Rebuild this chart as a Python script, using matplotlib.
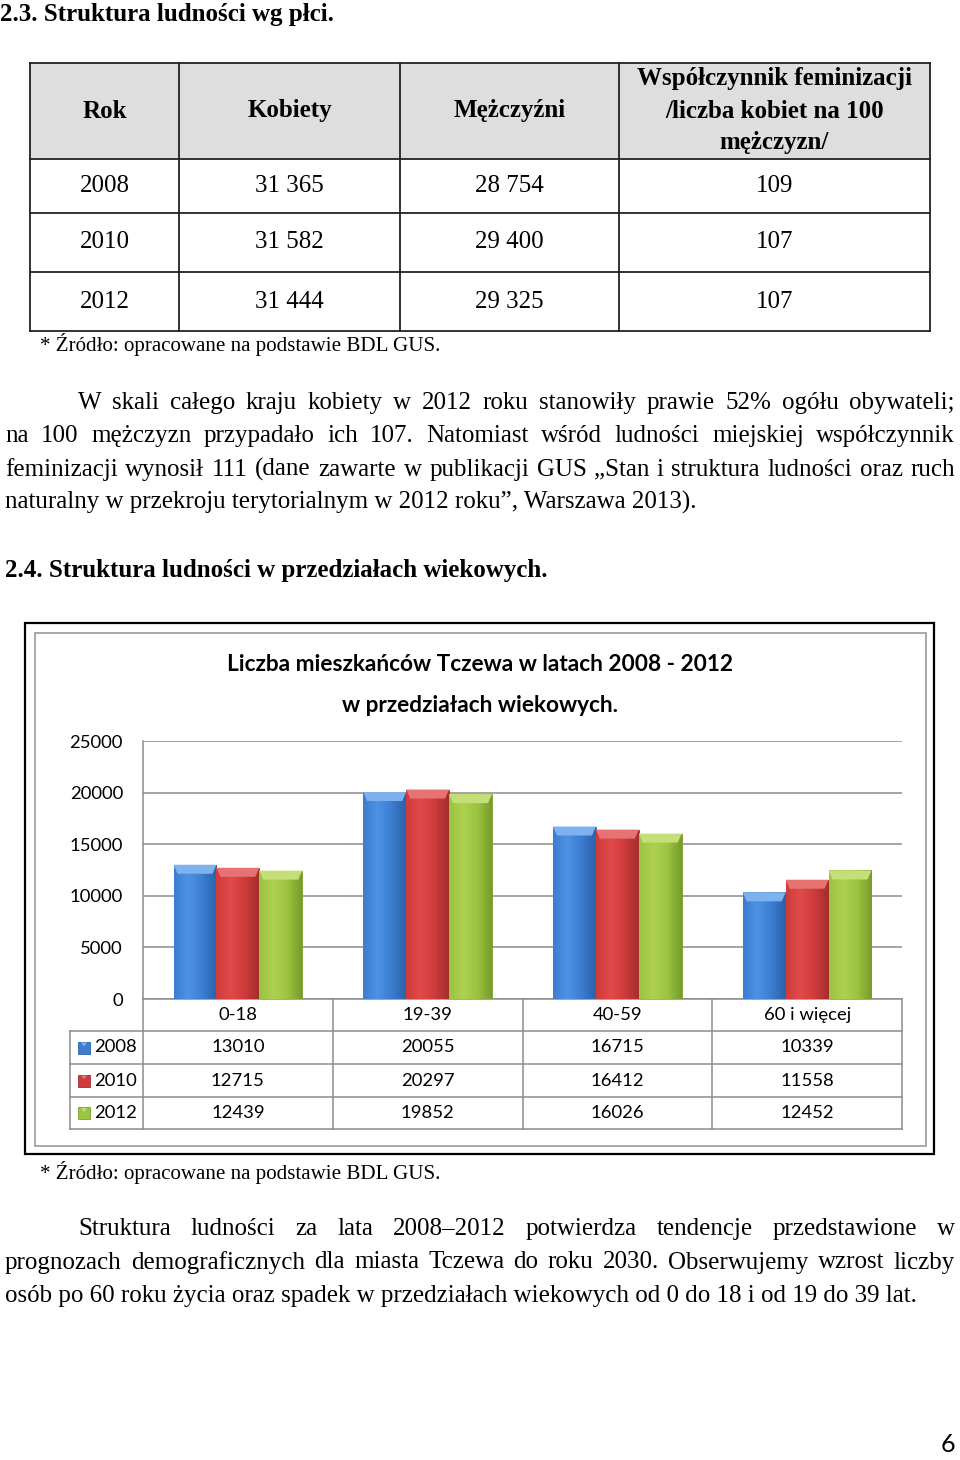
import matplotlib.pyplot as plt
import numpy as np
from matplotlib.colors import LinearSegmentedColormap
from matplotlib.patches import Rectangle, Polygon
from matplotlib.transforms import blended_transform_factory

# --- Data ---------------------------------------------------------------------

sex_header = ["Rok", "Kobiety", "Mężczyźni",
              "Współczynnik feminizacji\n/liczba kobiet na 100\nmężczyzn/"]
sex_years = ["2008", "2010", "2012"]
sex_women = ["31 365", "31 582", "31 444"]
sex_men = ["28 754", "29 400", "29 325"]
sex_ratio = ["109", "107", "107"]

age_groups = ["0-18", "19-39", "40-59", "60 i więcej"]
years = ["2008", "2010", "2012"]
pop_2008 = [13010, 20055, 16715, 10339]
pop_2010 = [12715, 20297, 16412, 11558]
pop_2012 = [12439, 19852, 16026, 12452]
y_ticks = [0, 5000, 10000, 15000, 20000, 25000]

chart_title = "Liczba mieszkańców Tczewa w latach 2008 - 2012\n\nw przedziałach wiekowych."
source_note = "* Źródło: opracowane na podstawie BDL GUS."

para1 = [
    "W skali całego kraju kobiety w 2012 roku stanowiły prawie 52% ogółu obywateli;",
    "na 100 mężczyzn przypadało ich 107. Natomiast wśród ludności miejskiej współczynnik",
    "feminizacji wynosił 111 (dane zawarte w publikacji GUS „Stan i struktura ludności oraz ruch",
    "naturalny w przekroju terytorialnym w 2012 roku”, Warszawa 2013).",
]
para2 = [
    "Struktura ludności za lata 2008–2012 potwierdza tendencje przedstawione w",
    "prognozach demograficznych dla miasta Tczewa do roku 2030. Obserwujemy wzrost liczby",
    "osób po 60 roku życia oraz spadek w przedziałach wiekowych od 0 do 18 i od 19 do 39 lat.",
]

# --- Styles -------------------------------------------------------------------

SERIF = "Liberation Serif"
SANS = "Lato"
BODY = 18
series = [pop_2008, pop_2010, pop_2012]
# base, light, dark, bevel
palette = [
    ("#3B7DD0", "#4E93E3", "#2C62A8", "#7DB2EE"),
    ("#CF3B3B", "#E04A4A", "#A42D2D", "#E77272"),
    ("#9BC440", "#AED150", "#789C2C", "#C5DF78"),
]

fig = plt.figure(figsize=(9.6, 14.6), dpi=100)
page = fig.add_axes([0, 0, 1, 1], zorder=0)
page.set_xlim(0, 960)
page.set_ylim(1460, 0)
page.axis("off")
renderer = fig.canvas.get_renderer()


def justified(lines, x_first, x_left, x_right, y0, dy, **kw):
    for i, line in enumerate(lines):
        x0 = x_first if i == 0 else x_left
        y = y0 + i * dy
        if i == len(lines) - 1:
            page.text(x0, y, line, va="center", **kw)
            continue
        words = line.split(" ")
        ts = [page.text(0, y, w, va="center", **kw) for w in words]
        widths = [t.get_window_extent(renderer).width for t in ts]
        gap = (x_right - x0 - sum(widths)) / (len(words) - 1)
        x = x0
        for t, w in zip(ts, widths):
            t.set_x(x)
            x += w + gap


# --- Section 2.3 --------------------------------------------------------------

page.text(0, 15, "2.3. Struktura ludności wg płci.", family=SERIF, weight="bold",
          size=BODY, va="center")

col_x = [30, 179, 400, 619, 930]
row_y = [63, 159, 213, 272, 331]
page.add_patch(Rectangle((col_x[0], row_y[0]), col_x[-1] - col_x[0], row_y[1] - row_y[0],
                         facecolor="#DEDEDE", edgecolor="none"))
for x in col_x:
    page.plot([x, x], [row_y[0], row_y[-1]], color="#222222", lw=1.3)
for y in row_y:
    page.plot([col_x[0], col_x[-1]], [y, y], color="#222222", lw=1.3)
for j, h in enumerate(sex_header):
    page.text((col_x[j] + col_x[j + 1]) / 2, (row_y[0] + row_y[1]) / 2, h,
              family=SERIF, weight="bold", size=BODY, ha="center", va="center",
              linespacing=1.5)
for i, row in enumerate(zip(sex_years, sex_women, sex_men, sex_ratio)):
    for j, v in enumerate(row):
        page.text((col_x[j] + col_x[j + 1]) / 2, (row_y[i + 1] + row_y[i + 2]) / 2, v,
                  family=SERIF, size=BODY, ha="center", va="center")

page.text(40, 345, source_note, family=SERIF, size=15.1, va="center")

justified(para1, 78, 5, 955, 403, 33.3, family=SERIF, size=BODY)

page.text(5, 571, "2.4. Struktura ludności w przedziałach wiekowych.", family=SERIF,
          weight="bold", size=BODY, va="center")

# --- Chart frame --------------------------------------------------------------

page.add_patch(Rectangle((25, 623), 909, 531, fill=False, edgecolor="black", lw=1.6))
page.add_patch(Rectangle((35, 633), 891, 513, fill=False, edgecolor="#9A9A9A", lw=1.2))
page.text(480, 685, chart_title, family=SANS, weight="bold", size=16.3,
          ha="center", va="center", linespacing=0.95)

# --- Bar chart ----------------------------------------------------------------

L, R, T, B = 143, 902, 741, 999
ax = fig.add_axes([L / 960, 1 - B / 1460, (R - L) / 960, (B - T) / 1460], zorder=1)
ax.patch.set_visible(False)

xc = np.arange(len(age_groups)) + 0.5
bw = 0.226
bevel_h = 9 / (B - T) * 25000
bevel_in = 4 / (R - L) * len(age_groups)
grad = np.linspace(0, 1, 64).reshape(1, -1)
for k, (vals, (base, light, dark, bev)) in enumerate(zip(series, palette)):
    cmap = LinearSegmentedColormap.from_list(f"c{k}", [base, light, base, dark])
    bars = ax.bar(xc + (k - 1) * bw, vals, bw, color=base, edgecolor=dark,
                  linewidth=0.6, zorder=3)
    for b in bars:
        x0, x1, h = b.get_x(), b.get_x() + b.get_width(), b.get_height()
        im = ax.imshow(grad, extent=[x0, x1, 0, h], cmap=cmap, aspect="auto",
                       zorder=3.1, interpolation="bilinear")
        im.set_clip_path(b)
        ax.add_patch(Polygon([(x0, h), (x1, h), (x1 - bevel_in, h - bevel_h),
                              (x0 + bevel_in, h - bevel_h)], closed=True,
                             facecolor=bev, edgecolor="none", zorder=3.2))

ax.set_xlim(0, len(age_groups))
ax.set_ylim(0, 25000)
ax.set_yticks(y_ticks)
ax.set_yticklabels([str(v) for v in y_ticks], family=SANS, size=13.3)
ax.tick_params(axis="y", length=0, pad=14.4)
ax.set_xticks([])
ax.grid(axis="y", color="#8C8C8C", lw=1.1, zorder=0)
ax.set_axisbelow(True)
for s in ["top", "right", "bottom"]:
    ax.spines[s].set_visible(False)
ax.spines["left"].set_color("#8C8C8C")
ax.spines["left"].set_linewidth(1.1)

# --- Data table under the chart -----------------------------------------------

tr = blended_transform_factory(ax.transData, page.transData)
rows_y = [999, 1031, 1064, 1097, 1129]
grid_c = "#8C8C8C"
n = len(age_groups)
for i in range(n + 1):
    page.plot([i, i], [rows_y[0], rows_y[-1]], color=grid_c, lw=1.1, transform=tr,
              clip_on=False)
for y in rows_y[1:]:
    page.plot([70, R], [y, y], color=grid_c, lw=1.1)
page.plot([0, n], [rows_y[0], rows_y[0]], color=grid_c, lw=1.1, transform=tr, clip_on=False)
page.plot([70, 70], [rows_y[1], rows_y[-1]], color=grid_c, lw=1.1)

for j, g in enumerate(age_groups):
    page.text(xc[j], (rows_y[0] + rows_y[1]) / 2, g, family=SANS, size=13.3,
              ha="center", va="center", transform=tr)
for i, (yr, vals) in enumerate(zip(years, series)):
    yc = (rows_y[i + 1] + rows_y[i + 2]) / 2
    page.add_patch(Rectangle((78, yc - 6), 12, 12, facecolor=palette[i][0],
                             edgecolor=palette[i][2], lw=0.6))
    page.add_patch(Polygon([(81, yc - 5), (87, yc - 5), (84, yc - 1)],
                           facecolor=palette[i][3], edgecolor="none"))
    page.text(94, yc, yr, family=SANS, size=13.3, va="center")
    for j, v in enumerate(vals):
        page.text(xc[j], yc, str(v), family=SANS, size=13.3, ha="center", va="center",
                  transform=tr)

page.text(40, 1172, source_note, family=SERIF, size=15.1, va="center")

justified(para2, 78, 5, 955, 1229, 33.5, family=SERIF, size=BODY)

page.text(955, 1445, "6", family=SANS, size=18, ha="right", va="center")

fig.savefig("out.png", dpi=100)
